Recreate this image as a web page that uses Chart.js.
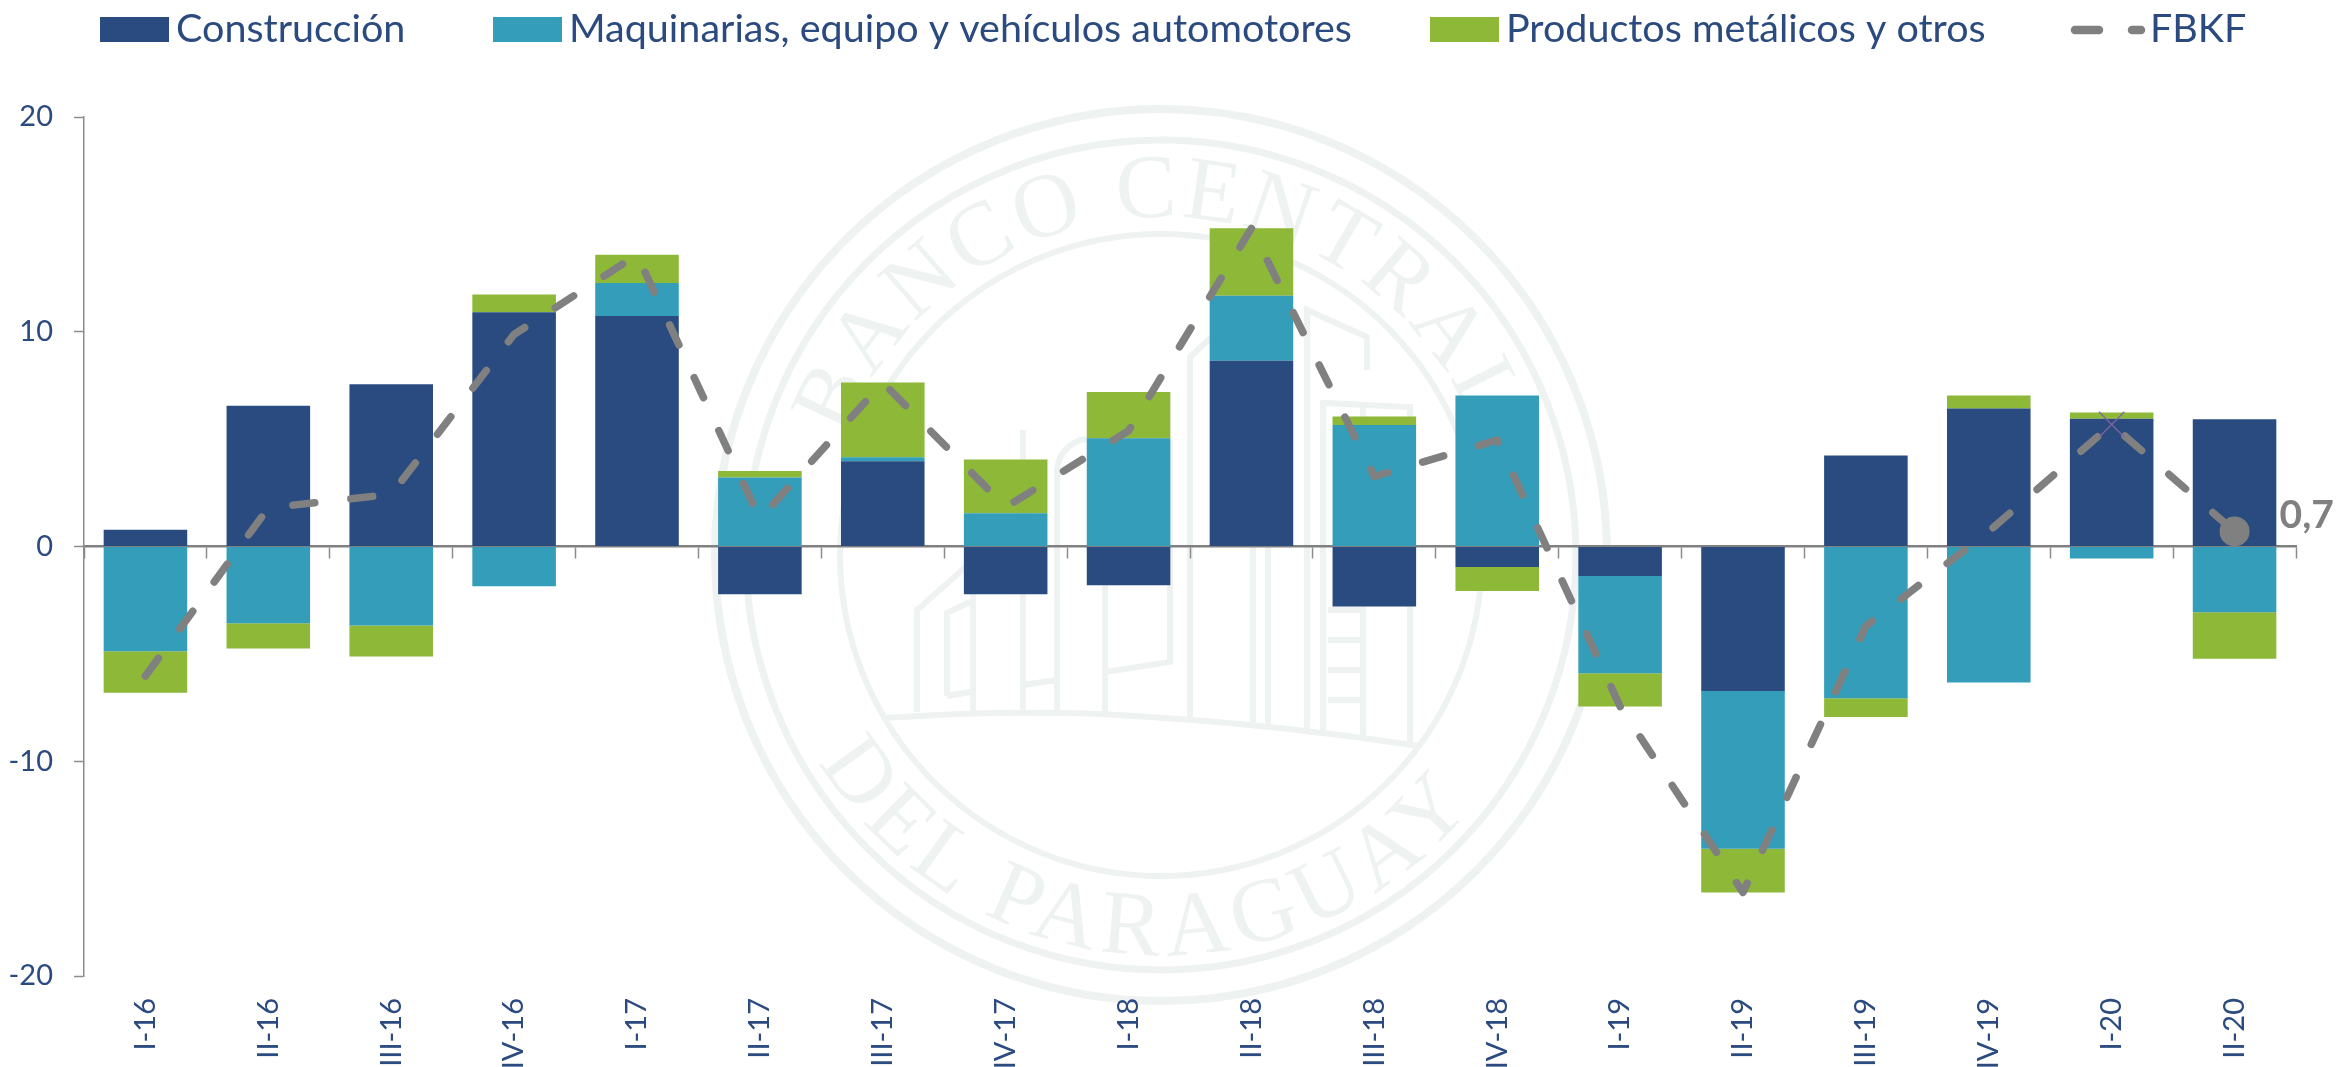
<!DOCTYPE html>
<html lang="es">
<head>
<meta charset="utf-8">
<title>FBKF</title>
<script src="https://cdn.jsdelivr.net/npm/chart.js@4"></script>
<style>
html,body{margin:0;padding:0;background:#fff;overflow:hidden}
#wrap{position:relative;width:2341px;height:1067px}
#seal,#c{position:absolute;left:0;top:0}
#seal text{font-family:"Liberation Serif",serif;font-size:91px;fill:#eef2f1}
</style>
</head>
<body>
<div id="wrap">
<svg id="seal" width="2341" height="1067" viewBox="0 0 2341 1067" fill="none" stroke="#eef2f1">
  <defs>
    <path id="arcTop" d="M 823 555 A 338 338 0 1 1 1499 555"/>
    <path id="arcBot" d="M 761 555 A 400 400 0 0 0 1561 555"/>
  </defs>
  <circle cx="1161" cy="555" r="446" stroke-width="8"/>
  <circle cx="1161" cy="555" r="415" stroke-width="7"/>
  <circle cx="1161" cy="555" r="321" stroke-width="6"/>
  <text stroke="none"><textPath href="#arcTop" startOffset="49.5%" text-anchor="middle" textLength="810" lengthAdjust="spacing">BANCO CENTRAL</textPath></text>
  <text stroke="none"><textPath href="#arcBot" startOffset="47.8%" text-anchor="middle" textLength="765" lengthAdjust="spacing">DEL PARAGUAY</textPath></text>
  <g stroke-width="6">
    <path d="M 885 718 Q 1000 710 1100 714 Q 1260 722 1420 746"/>
    <path d="M 917 712 V 610 L 1030 510"/>
    <path d="M 947 696 V 613 L 970 602 M 947 696 L 970 692"/>
    <path d="M 973 712 V 470 M 1023 712 V 430 M 1057 712 V 473 Q 1057 450 1080 440 L 1170 432 M 1105 714 V 440 M 1190 718 V 355"/>
    <path d="M 1023 685 L 1057 680 M 1105 672 L 1170 662 V 440"/>
    <path d="M 1190 357 L 1230 320 M 1253 722 V 340 M 1268 724 V 340 M 1307 730 V 310 L 1367 337 V 370"/>
    <path d="M 1323 730 V 403 L 1410 407 V 742 M 1363 736 V 403"/>
    <path d="M 1328 610 H 1360 M 1328 640 H 1360 M 1328 670 H 1360 M 1328 700 H 1360"/>
  </g>
</svg>
<canvas id="c" width="2341" height="1067"></canvas>
</div>
<script>
const categories = ["I-16","II-16","III-16","IV-16","I-17","II-17","III-17","IV-17","I-18","II-18","III-18","IV-18","I-19","II-19","III-19","IV-19","I-20","II-20"];
const construccion = [0.78,6.55,7.55,10.91,10.73,-2.22,3.97,-2.22,-1.80,8.65,-2.79,-0.96,-1.37,-6.73,4.24,6.43,5.95,5.92];
const maquinarias = [-4.88,-3.57,-3.68,-1.85,1.54,3.21,0.19,1.55,5.04,3.03,5.66,7.03,-4.53,-7.35,-7.07,-6.33,-0.56,-3.06];
const productos = [-1.93,-1.18,-1.44,0.82,1.31,0.30,3.48,2.50,2.15,3.14,0.39,-1.11,-1.55,-2.03,-0.87,0.60,0.29,-2.17];
const fbkf = [-6.03,1.80,2.43,9.88,13.58,1.29,7.64,1.83,5.39,14.82,3.26,4.96,-7.45,-16.11,-3.70,0.70,5.68,0.70];
const pointSizes = [0,0,0,0,0,0,0,0,0,0,0,0,0,0,0,0,18,15];
const labelFont = "Lato, 'Noto Sans', sans-serif";
const navy = "#2a4b80", teal = "#349dba", green = "#8db838", grey = "#808080", ink = "#2b4a7f";

const legendPlugin = {
  id: "placedLegend",
  afterDraw(chart) {
    const ctx = chart.ctx;
    const xs = [100, 493, 1430, 2071];
    ctx.save();
    ctx.font = "39.5px " + labelFont;
    ctx.textBaseline = "alphabetic";
    chart.data.datasets.forEach((d, i) => {
      const x = xs[i];
      if (d.type === "line") {
        ctx.strokeStyle = d.borderColor;
        ctx.lineWidth = 8.5;
        ctx.lineCap = "round";
        ctx.setLineDash([24, 33]);
        ctx.beginPath();
        ctx.moveTo(x + 4, 30);
        ctx.lineTo(x + 70, 30);
        ctx.stroke();
        ctx.setLineDash([]);
        ctx.fillStyle = ink;
        ctx.fillText(d.label, x + 79, 42);
      } else {
        ctx.fillStyle = d.backgroundColor;
        ctx.fillRect(x, 17, 69, 25);
        ctx.fillStyle = ink;
        ctx.fillText(d.label, x + 76, 42);
      }
    });
    ctx.restore();
  }
};

const endLabelPlugin = {
  id: "endLabel",
  afterDatasetsDraw(chart) {
    const idx = chart.data.datasets.findIndex(d => d.type === "line");
    const pts = chart.getDatasetMeta(idx).data;
    const p = pts[pts.length - 1];
    const v = chart.data.datasets[idx].data[pts.length - 1];
    const ctx = chart.ctx;
    ctx.save();
    ctx.font = "700 39px " + labelFont;
    ctx.fillStyle = grey;
    ctx.textAlign = "left";
    ctx.textBaseline = "alphabetic";
    ctx.fillText(v.toFixed(1).replace(".", ","), p.x + 45, p.y - 3);
    ctx.restore();
  }
};

new Chart(document.getElementById("c"), {
  type: "bar",
  plugins: [legendPlugin, endLabelPlugin],
  data: {
    labels: categories,
    datasets: [
      { label: "Construcción", data: construccion, backgroundColor: navy, order: 2 },
      { label: "Maquinarias, equipo y vehículos automotores", data: maquinarias, backgroundColor: teal, order: 2 },
      { label: "Productos metálicos y otros", data: productos, backgroundColor: green, order: 2 },
      {
        type: "line", label: "FBKF", data: fbkf, order: 1,
        borderColor: grey, borderWidth: 7.5, borderDash: [22, 36.25],
        borderCapStyle: "round", borderJoinStyle: "round", tension: 0, fill: false,
        pointRadius: pointSizes, pointHoverRadius: pointSizes, clip: false,
        pointStyle: ctx => ctx.dataIndex === 16 ? "crossRot" : "circle",
        pointBackgroundColor: grey,
        pointBorderColor: ctx => ctx.dataIndex === 16 ? "#8064a2" : grey,
        pointBorderWidth: ctx => ctx.dataIndex === 16 ? 1.2 : 0
      }
    ]
  },
  options: {
    responsive: false,
    animation: false,
    layout: { padding: { top: 117, right: 45, left: 0, bottom: 0 } },
    datasets: { bar: { categoryPercentage: 1, barPercentage: 0.68, borderWidth: 0 } },
    plugins: { legend: { display: false }, tooltip: { enabled: false }, title: { display: false } },
    scales: {
      x: {
        stacked: true,
        offset: true,
        afterFit(s) { s.height = 91; },
        border: { display: false },
        grid: { display: false, drawTicks: false },
        ticks: {
          autoSkip: false, minRotation: 90, maxRotation: 90, padding: 22,
          color: ink, font: { family: labelFont, size: 29 }
        }
      },
      x0: {
        type: "category",
        position: { y: 0 },
        offset: true,
        labels: categories,
        border: { display: true, color: grey, width: 2.5 },
        grid: { display: true, offset: true, drawOnChartArea: false, drawTicks: true, tickLength: 11, tickColor: "#8c8c8c", tickWidth: 1.5 },
        ticks: { display: false }
      },
      y: {
        stacked: true,
        min: -20, max: 20,
        afterFit(s) { s.width = 84; },
        border: { display: true, color: "#8c8c8c", width: 1.5 },
        grid: { display: true, drawOnChartArea: false, drawTicks: true, tickLength: 10, tickColor: "#8c8c8c", tickWidth: 1.5 },
        ticks: { stepSize: 10, padding: 21, color: ink, font: { family: labelFont, size: 29 } }
      }
    }
  }
});
</script>
</body>
</html>
